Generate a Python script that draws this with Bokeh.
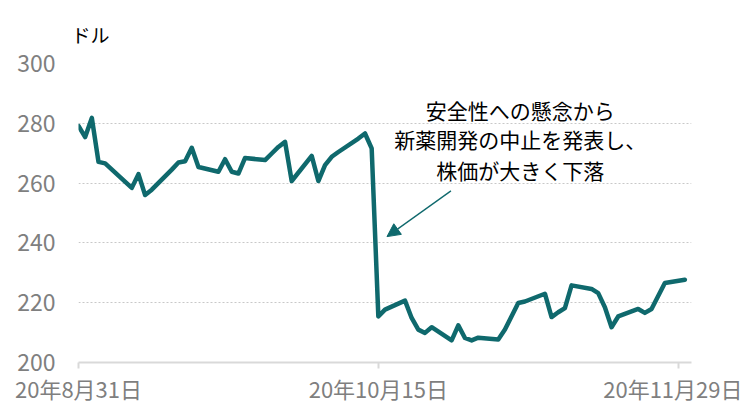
import pandas as pd
from bokeh.plotting import figure
from bokeh.models import FixedTicker, Label, Arrow, NormalHead, Range1d
from bokeh.embed import file_html
from bokeh.resources import INLINE

# ---- data ----
dates = [
    "2020-08-31", "2020-09-01", "2020-09-02", "2020-09-03", "2020-09-04",
    "2020-09-08", "2020-09-09", "2020-09-10", "2020-09-11", "2020-09-14",
    "2020-09-15", "2020-09-16", "2020-09-17", "2020-09-18", "2020-09-21",
    "2020-09-22", "2020-09-23", "2020-09-24", "2020-09-25", "2020-09-28",
    "2020-09-29", "2020-09-30", "2020-10-01", "2020-10-02", "2020-10-05",
    "2020-10-06", "2020-10-07", "2020-10-08", "2020-10-09", "2020-10-12",
    "2020-10-13", "2020-10-14", "2020-10-15", "2020-10-16", "2020-10-19",
    "2020-10-20", "2020-10-21", "2020-10-22", "2020-10-23", "2020-10-26",
    "2020-10-27", "2020-10-28", "2020-10-29", "2020-10-30", "2020-11-02",
    "2020-11-03", "2020-11-04", "2020-11-05", "2020-11-06", "2020-11-09",
    "2020-11-10", "2020-11-11", "2020-11-12", "2020-11-13", "2020-11-16",
    "2020-11-17", "2020-11-18", "2020-11-19", "2020-11-20", "2020-11-23",
    "2020-11-24", "2020-11-25", "2020-11-27", "2020-11-30",
]
prices = [
    279.1, 275.4, 281.8, 267.1, 266.6,
    258.4, 263.0, 256.0, 257.8, 264.5,
    266.9, 267.3, 271.8, 265.4, 263.8,
    268.0, 263.8, 263.2, 268.4, 267.7,
    269.9, 272.1, 273.8, 260.7, 269.1,
    260.7, 266.0, 268.8, 270.4, 274.9,
    276.6, 271.6, 215.4, 217.7, 220.7,
    214.9, 211.0, 209.9, 211.8, 207.4,
    212.4, 208.2, 207.4, 208.3, 207.7,
    211.0, 215.5, 219.9, 220.4, 223.0,
    215.2, 216.8, 218.2, 225.8, 224.6,
    223.2, 218.5, 211.8, 215.4, 217.9,
    216.6, 217.9, 226.6, 227.7,
]
tick_dates = ["2020-08-31", "2020-10-15", "2020-11-29"]
tick_labels = ["20年8月31日", "20年10月15日", "20年11月29日"]
y_ticks = [200, 220, 240, 260, 280, 300]
unit_label = "ドル"
note_lines = ["安全性への懸念から", "新薬開発の中止を発表し、", "株価が大きく下落"]

# ---- helpers ----
DAY = 86400000.0
def ms(d):
    return pd.Timestamp(d).value // 10**6

x0 = ms("2020-08-31")
xs = [pd.Timestamp(d) for d in dates]

FONT = "Noto Sans CJK JP"
TEAL = "#0f696d"

p = figure(
    width=742, height=406,
    x_axis_type="datetime",
    x_range=Range1d(x0, x0 + 92 * DAY),
    y_range=Range1d(200, 300),
    output_backend="svg", toolbar_location=None,
    min_border_left=78, min_border_right=51,
    min_border_top=63, min_border_bottom=43,
)
p.outline_line_color = None
p.background_fill_color = "white"
p.border_fill_color = "white"

# unit label as title
p.title.text = unit_label
p.title.align = "left"
p.title.offset = -7
p.title.text_font = FONT
p.title.text_font_size = "19px"
p.title.text_font_style = "normal"
p.title.text_color = "black"
p.title.standoff = 32

p.line(xs, prices, line_color=TEAL, line_width=4.5,
       line_join="round", line_cap="round")

# x axis
xt = [ms(d) for d in tick_dates]
p.xaxis.ticker = FixedTicker(ticks=xt)
p.xaxis.major_label_overrides = {t: lab for t, lab in zip(xt, tick_labels)}
p.xaxis.axis_line_color = "#d9d9d9"
p.xaxis.axis_line_width = 2
p.xaxis.major_tick_line_color = "#d9d9d9"
p.xaxis.major_tick_line_width = 2
p.xaxis.major_tick_out = 6
p.xaxis.major_tick_in = 0
p.xaxis.minor_tick_line_color = None
p.xaxis.major_label_text_font = FONT
p.xaxis.major_label_text_font_size = "22px"
p.xaxis.major_label_text_color = "#7f7f7f"
p.xaxis.major_label_standoff = 3

# y axis
p.yaxis.ticker = FixedTicker(ticks=y_ticks)
p.yaxis.axis_line_color = None
p.yaxis.major_tick_line_color = None
p.yaxis.minor_tick_line_color = None
p.yaxis.major_label_text_font = FONT
p.yaxis.major_label_text_font_size = "23px"
p.yaxis.major_label_text_color = "#7f7f7f"
p.yaxis.major_label_standoff = 17

# grids
p.xgrid.visible = False
p.ygrid.ticker = FixedTicker(ticks=y_ticks)
p.ygrid.grid_line_color = "#c8c8c8"
p.ygrid.grid_line_dash = "2 2"
p.ygrid.grid_line_width = 1

# annotation
note_x = x0 + 66.3 * DAY
note_y = [284.5, 274.7, 264.3]
for t, yy in zip(note_lines, note_y):
    p.add_layout(Label(x=note_x, y=yy, text=t, text_font=FONT,
                       text_font_size="21px", text_color="black",
                       text_align="center", text_baseline="middle"))

p.add_layout(Arrow(end=NormalHead(size=13, fill_color=TEAL, line_color=TEAL),
                   x_start=x0 + 55.9 * DAY, y_start=257.4,
                   x_end=x0 + 46.3 * DAY, y_end=242.1,
                   line_color=TEAL, line_width=1.3))

open("out.html", "w").write(file_html(p, INLINE))
